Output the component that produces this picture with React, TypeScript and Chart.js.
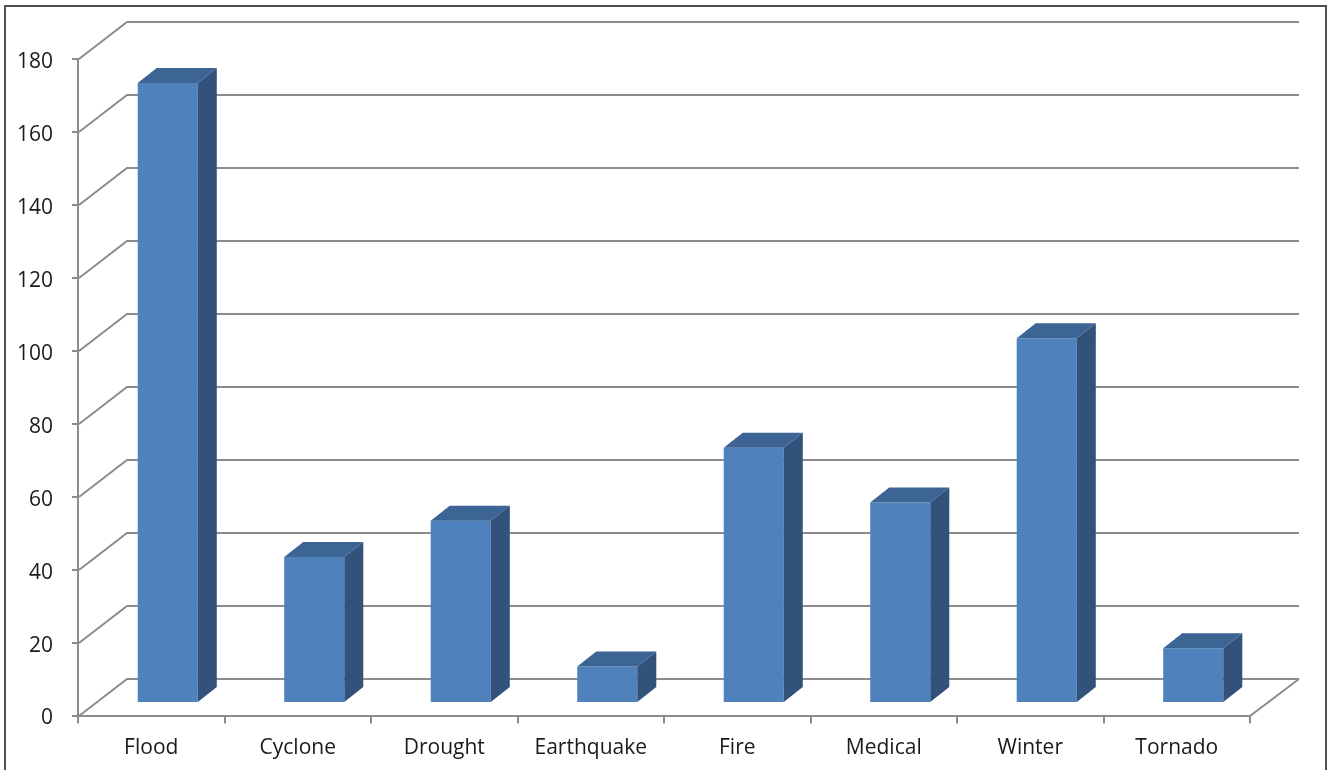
import React, { useEffect, useRef } from "react";
import { Chart, registerables } from "chart.js";

Chart.register(...registerables);

const categories = ["Flood", "Cyclone", "Drought", "Earthquake", "Fire", "Medical", "Winter", "Tornado"];
const values = [170, 40, 50, 10, 70, 55, 100, 15];
const yMin = 0;
const yMax = 180;
const yStep = 20;

const GRID = "#8c8c8c";
const TEXT = "#1a1a1a";
const FRONT = "#4f81bd";
const TOP = "#3c6494";
const SIDE = "#32527c";

const DEPTH_X = 49;
const DEPTH_Y = 37;
const BAR_OFF_X = 16.5;
const BAR_OFF_Y = 12.5;
const BAR_DX = 19;
const BAR_DY = 15;

const threeD = {
  id: "threeD",
  beforeDraw(chart: any) {
    const ctx = chart.ctx;
    ctx.save();
    ctx.strokeStyle = "#505050";
    ctx.lineWidth = 2;
    ctx.strokeRect(5, 6, 1321, 900);
    ctx.restore();
  },
  beforeDatasetsDraw(chart: any) {
    const { ctx, chartArea, scales } = chart;
    const y = scales.y;
    ctx.save();
    ctx.strokeStyle = GRID;
    ctx.lineWidth = 2;
    ctx.lineJoin = "miter";
    y.ticks.forEach((t: any) => {
      const py = Math.round(y.getPixelForValue(t.value));
      ctx.beginPath();
      ctx.moveTo(chartArea.left + 1, py);
      ctx.lineTo(chartArea.left + DEPTH_X, py - DEPTH_Y);
      ctx.lineTo(chartArea.right + DEPTH_X, py - DEPTH_Y);
      ctx.stroke();
    });
    const by = Math.round(chartArea.bottom);
    ctx.beginPath();
    ctx.moveTo(chartArea.right, by);
    ctx.lineTo(chartArea.right + DEPTH_X, by - DEPTH_Y);
    ctx.stroke();
    ctx.restore();
    ctx.save();
    ctx.translate(BAR_OFF_X, -BAR_OFF_Y);
  },
  afterDatasetsDraw(chart: any) {
    const ctx = chart.ctx;
    const meta = chart.getDatasetMeta(0);
    meta.data.forEach((bar: any) => {
      const { x, y, base, width } = bar.getProps(["x", "y", "base", "width"], true);
      const xl = x - width / 2;
      const xr = x + width / 2;
      ctx.fillStyle = TOP;
      ctx.beginPath();
      ctx.moveTo(xl, y);
      ctx.lineTo(xl + BAR_DX, y - BAR_DY);
      ctx.lineTo(xr + BAR_DX, y - BAR_DY);
      ctx.lineTo(xr, y);
      ctx.closePath();
      ctx.fill();
      ctx.fillStyle = SIDE;
      ctx.beginPath();
      ctx.moveTo(xr, y);
      ctx.lineTo(xr + BAR_DX, y - BAR_DY);
      ctx.lineTo(xr + BAR_DX, base - BAR_DY);
      ctx.lineTo(xr, base);
      ctx.closePath();
      ctx.fill();
    });
    ctx.restore();
  },
};

export default function App() {
  const ref = useRef<HTMLCanvasElement | null>(null);

  useEffect(() => {
    const canvas = ref.current;
    if (!canvas) return;
    const chart = new Chart(canvas, {
      type: "bar",
      data: {
        labels: categories,
        datasets: [
          {
            data: values,
            backgroundColor: FRONT,
            borderWidth: 0,
            barPercentage: 0.41,
            categoryPercentage: 1,
            clip: false as any,
          },
        ],
      },
      options: {
        responsive: false,
        animation: false,
        devicePixelRatio: 1,
        layout: { padding: { left: 0, top: 59, right: 83, bottom: 0 } },
        plugins: {
          legend: { display: false },
          tooltip: { enabled: false },
        },
        scales: {
          x: {
            offset: true,
            grid: {
              offset: true,
              drawOnChartArea: false,
              drawTicks: true,
              tickLength: 8,
              color: GRID,
              lineWidth: 2,
            },
            border: { display: true, color: GRID, width: 2 },
            ticks: {
              color: TEXT,
              font: { family: "'Open Sans'", size: 21 },
              padding: 12,
              maxRotation: 0,
            },
            afterFit(scale: any) {
              scale.height = 54.5;
            },
          },
          y: {
            min: yMin,
            max: yMax,
            grid: {
              drawOnChartArea: false,
              drawTicks: true,
              tickLength: 6,
              color: GRID,
              lineWidth: 2,
            },
            border: { display: true, color: GRID, width: 2 },
            ticks: {
              stepSize: yStep,
              color: TEXT,
              font: { family: "'Open Sans'", size: 21 },
              padding: 19,
              labelOffset: 3,
            },
            afterFit(scale: any) {
              scale.width = 78;
            },
          },
        },
      },
      plugins: [threeD],
    });
    return () => chart.destroy();
  }, []);

  return (
    <div style={{ position: "fixed", left: 0, top: 0, width: 1333, height: 770, background: "#fff" }}>
      <canvas ref={ref} width={1333} height={770} style={{ display: "block" }} />
    </div>
  );
}
